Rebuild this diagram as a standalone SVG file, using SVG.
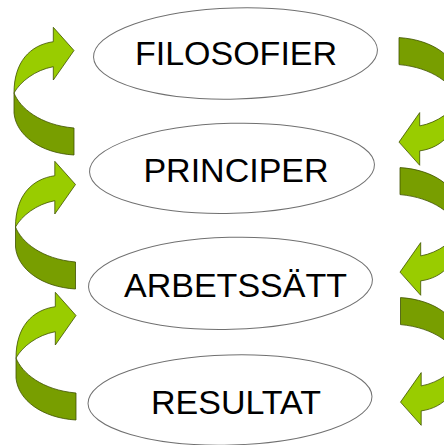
<svg xmlns="http://www.w3.org/2000/svg" xmlns:xlink="http://www.w3.org/1999/xlink" width="444" height="445" viewBox="0 0 444 445">
<style>
.ell{fill:#ffffff;stroke:#707070;stroke-width:1}
.lbl{font-family:"Liberation Sans",Arial,sans-serif;font-size:34px;fill:#000000;text-anchor:middle}
.light{fill:#99cc00;stroke:#3f5200;stroke-width:0.8;stroke-linejoin:round}
.dark{fill:#789e00;stroke:#3f5200;stroke-width:0.8;stroke-linejoin:round}
</style>
<defs>
<g id="curvedArrow">
<path class="dark" d="M 14 93 L 14 113 C 16 135 40 153 74 155 L 74 128 C 40 125 20 108 14 93 Z"/>
<path class="light" d="M 53.3 66.7 L 53.3 80 L 74 50.5 L 53.3 27.3 L 53.3 41.7 C 30 45 14 62 14 93 C 20 82 35 70 53.3 66.7 Z"/>
</g>
</defs>
<rect width="444" height="445" fill="#ffffff"/>
<g id="connectors">
<use xlink:href="#curvedArrow"/>
<use xlink:href="#curvedArrow" transform="translate(1.5,134)"/>
<use xlink:href="#curvedArrow" transform="translate(2,265)"/>
<use xlink:href="#curvedArrow" transform="rotate(180 236.5 96.3)"/>
<use xlink:href="#curvedArrow" transform="translate(1,130) rotate(180 236.5 96.3)"/>
<use xlink:href="#curvedArrow" transform="translate(1.5,260) rotate(180 236.5 96.3)"/>
</g>
<g id="node-filosofier">
<ellipse class="ell" cx="235.5" cy="53.5" rx="142" ry="45.5" transform="rotate(-1.5 235.5 53.5)"/>
<text class="lbl" x="236" y="64.5">FILOSOFIER</text>
</g>
<g id="node-principer">
<ellipse class="ell" cx="232" cy="168.3" rx="142.5" ry="45" transform="rotate(-1.5 232 168.3)"/>
<text class="lbl" x="236" y="181.7">PRINCIPER</text>
</g>
<g id="node-arbetssatt">
<ellipse class="ell" cx="230.5" cy="283.3" rx="142" ry="46" transform="rotate(-1.5 230.5 283.3)"/>
<text class="lbl" x="235.5" y="297">ARBETSSÄTT</text>
</g>
<g id="node-resultat">
<ellipse class="ell" cx="230" cy="400" rx="142" ry="45" transform="rotate(-1.5 230 400)"/>
<text class="lbl" x="236" y="413.7">RESULTAT</text>
</g>
</svg>
